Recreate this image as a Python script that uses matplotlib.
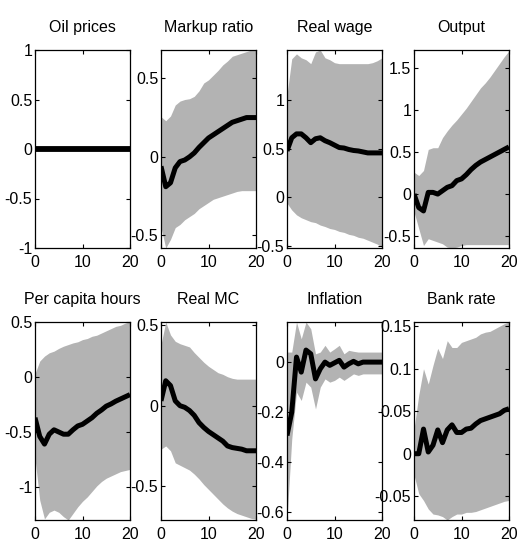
import matplotlib
matplotlib.use("Agg")
import matplotlib.pyplot as plt
import numpy as np

horizon = list(range(21))

titles = ["Oil prices", "Markup ratio", "Real wage", "Output",
          "Per capita hours", "Real MC", "Inflation", "Bank rate"]

oil_mid = [0.0] * 21
oil_lo = [0.0] * 21
oil_hi = [0.0] * 21

markup_mid = [-0.06, -0.19, -0.165, -0.07, -0.03, -0.02, 0.0, 0.025, 0.06, 0.09, 0.12,
              0.14, 0.16, 0.18, 0.2, 0.22, 0.23, 0.24, 0.25, 0.25, 0.25]
markup_hi = [0.255, 0.23, 0.26, 0.33, 0.355, 0.365, 0.37, 0.385, 0.42, 0.47, 0.49,
             0.52, 0.55, 0.585, 0.61, 0.64, 0.65, 0.66, 0.67, 0.68, 0.68]
markup_lo = [-0.45, -0.58, -0.525, -0.45, -0.43, -0.40, -0.38, -0.36, -0.33, -0.31, -0.29,
             -0.27, -0.26, -0.25, -0.24, -0.23, -0.22, -0.215, -0.215, -0.215, -0.215]

wage_mid = [0.476, 0.61, 0.65, 0.65, 0.61, 0.56, 0.60, 0.61, 0.58, 0.56, 0.535,
            0.51, 0.505, 0.49, 0.48, 0.475, 0.465, 0.455, 0.455, 0.455, 0.455]
wage_hi = [1.05, 1.42, 1.47, 1.43, 1.41, 1.37, 1.49, 1.51, 1.43, 1.41, 1.38,
           1.37, 1.37, 1.37, 1.37, 1.37, 1.37, 1.37, 1.38, 1.40, 1.43]
wage_lo = [-0.06, -0.13, -0.18, -0.21, -0.23, -0.25, -0.26, -0.285, -0.30, -0.32, -0.33,
           -0.35, -0.36, -0.38, -0.39, -0.41, -0.42, -0.44, -0.46, -0.48, -0.51]

output_mid = [0.0, -0.16, -0.2, 0.02, 0.02, 0.0, 0.04, 0.08, 0.1, 0.16, 0.18,
              0.23, 0.29, 0.34, 0.38, 0.41, 0.44, 0.47, 0.5, 0.53, 0.56]
output_hi = [0.26, 0.22, 0.28, 0.53, 0.55, 0.55, 0.67, 0.75, 0.82, 0.88, 0.95,
             1.02, 1.1, 1.18, 1.26, 1.32, 1.39, 1.47, 1.55, 1.63, 1.70]
output_lo = [-0.21, -0.41, -0.61, -0.53, -0.55, -0.57, -0.59, -0.63, -0.64, -0.63, -0.61,
             -0.60, -0.60, -0.60, -0.60, -0.60, -0.60, -0.60, -0.60, -0.60, -0.60]

hours_mid = [-0.37, -0.54, -0.61, -0.52, -0.48, -0.5, -0.52, -0.52, -0.48, -0.445, -0.43,
             -0.4, -0.37, -0.33, -0.3, -0.265, -0.245, -0.22, -0.2, -0.18, -0.16]
hours_hi = [0.03, 0.145, 0.19, 0.22, 0.235, 0.26, 0.28, 0.295, 0.31, 0.32, 0.34,
            0.35, 0.37, 0.38, 0.4, 0.42, 0.44, 0.46, 0.47, 0.49, 0.5]
hours_lo = [-0.74, -1.12, -1.29, -1.23, -1.21, -1.23, -1.27, -1.30, -1.24, -1.18, -1.13,
            -1.09, -1.04, -0.99, -0.95, -0.92, -0.90, -0.88, -0.86, -0.85, -0.84]

mc_mid = [0.03, 0.155, 0.125, 0.03, 0.0, -0.01, -0.03, -0.06, -0.105, -0.135, -0.16,
          -0.18, -0.2, -0.22, -0.25, -0.26, -0.265, -0.27, -0.28, -0.28, -0.28]
mc_hi = [0.38, 0.52, 0.44, 0.40, 0.385, 0.375, 0.365, 0.33, 0.30, 0.27, 0.245,
         0.225, 0.205, 0.195, 0.18, 0.17, 0.165, 0.165, 0.165, 0.165, 0.165]
mc_lo = [-0.27, -0.25, -0.28, -0.355, -0.37, -0.385, -0.40, -0.425, -0.455, -0.49, -0.52,
         -0.55, -0.58, -0.61, -0.635, -0.655, -0.67, -0.68, -0.69, -0.70, -0.705]

infl_mid = [-0.293, -0.2, 0.02, -0.04, 0.048, 0.033, -0.067, -0.027, 0.0, -0.013, -0.003,
            0.007, -0.02, -0.007, 0.003, -0.007, 0.0, 0.0, 0.0, 0.0, 0.0]
infl_hi = [0.04, 0.04, 0.16, 0.093, 0.16, 0.133, 0.033, 0.04, 0.067, 0.04, 0.053,
           0.067, 0.033, 0.047, 0.043, 0.04, 0.04, 0.04, 0.04, 0.04, 0.04]
infl_lo = [-0.627, -0.307, -0.12, -0.153, -0.08, -0.1, -0.187, -0.1, -0.067, -0.08, -0.073,
           -0.06, -0.073, -0.06, -0.047, -0.053, -0.047, -0.047, -0.047, -0.047, -0.047]

bank_mid = [0.0, 0.0, 0.029, 0.002, 0.01, 0.028, 0.013, 0.028, 0.034, 0.025, 0.025,
            0.029, 0.03, 0.035, 0.039, 0.041, 0.043, 0.045, 0.047, 0.051, 0.053]
bank_hi = [0.029, 0.069, 0.1, 0.082, 0.104, 0.124, 0.112, 0.133, 0.125, 0.125, 0.131,
           0.133, 0.135, 0.137, 0.141, 0.143, 0.144, 0.147, 0.15, 0.153, 0.155]
bank_lo = [-0.025, -0.047, -0.055, -0.065, -0.071, -0.072, -0.074, -0.078, -0.074, -0.071, -0.071,
           -0.069, -0.069, -0.068, -0.066, -0.064, -0.062, -0.060, -0.058, -0.056, -0.055]

yticks = [[-1, -0.5, 0, 0.5, 1], [-0.5, 0, 0.5], [-0.5, 0, 0.5, 1], [-0.5, 0, 0.5, 1, 1.5],
          [-1, -0.5, 0, 0.5], [-0.5, 0, 0.5], [-0.6, -0.4, -0.2, 0], [-0.05, 0, 0.05, 0.1, 0.15]]
ylims = [(-1, 1), (-0.58, 0.68), (-0.52, 1.51), (-0.64, 1.71),
         (-1.30, 0.50), (-0.71, 0.52), (-0.63, 0.16), (-0.078, 0.155)]
xticks = [0, 10, 20]

mids = [oil_mid, markup_mid, wage_mid, output_mid, hours_mid, mc_mid, infl_mid, bank_mid]
his = [oil_hi, markup_hi, wage_hi, output_hi, hours_hi, mc_hi, infl_hi, bank_hi]
los = [oil_lo, markup_lo, wage_lo, output_lo, hours_lo, mc_lo, infl_lo, bank_lo]

plt.rcParams['font.family'] = ['Liberation Sans', 'DejaVu Sans']

fig = plt.figure(figsize=(5.2, 5.43), dpi=100)
W, H = 520.0, 543.0
lefts = [35, 161, 287, 414]
tops = [50, 322]
aw, ah = 95, 198

for i in range(8):
    r, c = divmod(i, 4)
    ax = fig.add_axes([lefts[c] / W, 1 - (tops[r] + ah) / H, aw / W, ah / H])
    if i > 0:
        ax.fill_between(horizon, los[i], his[i], color='#b3b3b3', linewidth=0, zorder=1)
    ax.plot(horizon, mids[i], color='black', linewidth=4.2 if i == 0 else 3.6,
            solid_capstyle='butt', zorder=2)
    ax.set_xlim(0, 20)
    ax.set_ylim(*ylims[i])
    ax.set_xticks(xticks)
    ax.set_yticks(yticks[i])
    ax.set_yticklabels([f"{v:g}" for v in yticks[i]])
    ax.tick_params(direction='in', top=True, right=True, length=3, width=0.8,
                   labelsize=11.5)
    ax.tick_params(axis='x', pad=5)
    ax.tick_params(axis='y', pad=2)
    for s in ax.spines.values():
        s.set_linewidth(0.9)
    ax.set_title(titles[i], fontsize=11.5, pad=13)

fig.savefig("out.png", dpi=100)
